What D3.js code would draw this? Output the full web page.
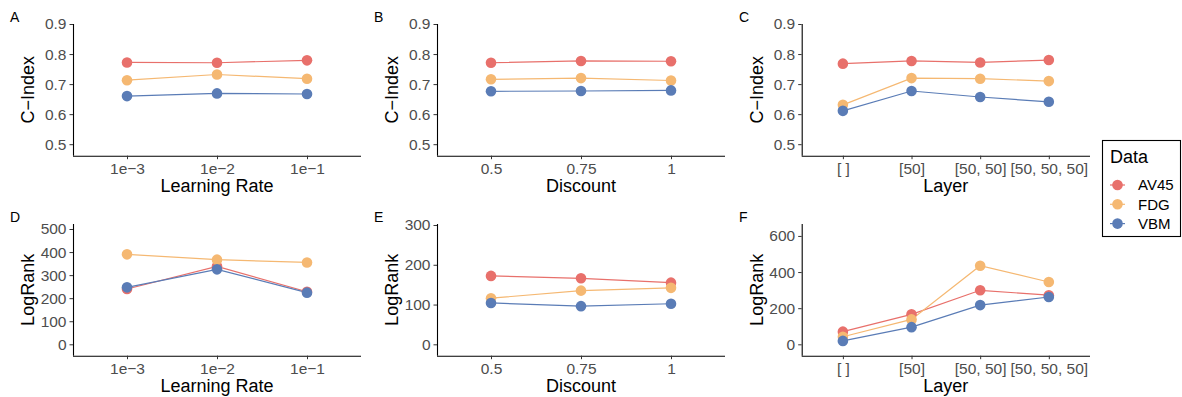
<!DOCTYPE html>
<html><head><meta charset="utf-8">
<script src="https://cdn.jsdelivr.net/npm/d3@7"></script>
<style>body{margin:0;background:#fff}svg{display:block;font-family:"Liberation Sans",Arial,Helvetica,sans-serif}</style>
</head><body><svg id="c" width="1182" height="397"></svg>
<script>
// ---- data ----
const seriesNames = ["AV45", "FDG", "VBM"];
const seriesColors = ["#E8706B", "#F5B872", "#5A7CB6"];

const lrCats = ["1e\u22123", "1e\u22122", "1e\u22121"];
const discountCats = ["0.5", "0.75", "1"];
const layerCats = ["[ ]", "[50]", "[50, 50]", "[50, 50, 50]"];

// C-Index vs Learning Rate
const cLR_AV45 = [0.772, 0.771, 0.779];
const cLR_FDG  = [0.713, 0.732, 0.718];
const cLR_VBM  = [0.660, 0.669, 0.667];
// C-Index vs Discount
const cDisc_AV45 = [0.771, 0.777, 0.776];
const cDisc_FDG  = [0.716, 0.720, 0.712];
const cDisc_VBM  = [0.676, 0.677, 0.679];
// C-Index vs Layer
const cLayer_AV45 = [0.768, 0.777, 0.772, 0.780];
const cLayer_FDG  = [0.631, 0.720, 0.718, 0.710];
const cLayer_VBM  = [0.611, 0.677, 0.657, 0.641];
// LogRank vs Learning Rate
const lLR_AV45 = [240, 338, 228];
const lLR_FDG  = [390, 367, 355];
const lLR_VBM  = [247, 325, 224];
// LogRank vs Discount
const lDisc_AV45 = [172, 166, 155];
const lDisc_FDG  = [116, 135, 142];
const lDisc_VBM  = [104, 96, 102];
// LogRank vs Layer
const lLayer_AV45 = [70, 166, 299, 272];
const lLayer_FDG  = [42, 138, 435, 345];
const lLayer_VBM  = [19, 95, 217, 262];

const cTicks = [0.5, 0.6, 0.7, 0.8, 0.9];
const lTicksD = [0, 100, 200, 300, 400, 500];
const lTicksE = [0, 100, 200, 300];
const lTicksF = [0, 200, 400, 600];

// ---- layout ----
const svg = d3.select("#c");
const cols = [[73, 361], [437, 725], [801.7, 1090]];
const rows = [[24, 155.7], [224, 355.7]];

const panels = [
  {lab:"A", col:0, row:0, cats:lrCats, xt:"Learning Rate", yt:"C\u2212Index", dom:[0.4617,0.9], ticks:cTicks, fmt:d3.format(".1f"), data:[cLR_AV45,cLR_FDG,cLR_VBM]},
  {lab:"B", col:1, row:0, cats:discountCats, xt:"Discount", yt:"C\u2212Index", dom:[0.4617,0.9], ticks:cTicks, fmt:d3.format(".1f"), data:[cDisc_AV45,cDisc_FDG,cDisc_VBM]},
  {lab:"C", col:2, row:0, cats:layerCats, xt:"Layer", yt:"C\u2212Index", dom:[0.4617,0.9], ticks:cTicks, fmt:d3.format(".1f"), data:[cLayer_AV45,cLayer_FDG,cLayer_VBM]},
  {lab:"D", col:0, row:1, cats:lrCats, xt:"Learning Rate", yt:"LogRank", dom:[-49.4,521.7], ticks:lTicksD, fmt:d3.format("d"), data:[lLR_AV45,lLR_FDG,lLR_VBM]},
  {lab:"E", col:1, row:1, cats:discountCats, xt:"Discount", yt:"LogRank", dom:[-28.6,302.5], ticks:lTicksE, fmt:d3.format("d"), data:[lDisc_AV45,lDisc_FDG,lDisc_VBM]},
  {lab:"F", col:2, row:1, cats:layerCats, xt:"Layer", yt:"LogRank", dom:[-63,666], ticks:lTicksF, fmt:d3.format("d"), data:[lLayer_AV45,lLayer_FDG,lLayer_VBM]},
];
const labelX = [10, 374, 739];

panels.forEach(p => {
  const [x0, x1] = cols[p.col];
  const [y0, y1] = rows[p.row];
  const x = d3.scalePoint().domain(p.cats).range([x0, x1]).padding(0.6);
  const y = d3.scaleLinear().domain(p.dom).range([y1, y0]);

  // panel label
  svg.append("text").attr("x", labelX[p.col]).attr("y", y0 - 2)
    .attr("font-size", 14).attr("fill", "#000").text(p.lab);

  // y axis
  const ya = svg.append("g").attr("transform", `translate(${x0},0)`)
    .call(d3.axisLeft(y).tickValues(p.ticks).tickFormat(p.fmt).tickSize(3.5).tickPadding(3));
  ya.select(".domain").attr("stroke", "#000").attr("stroke-width", 1.1).attr("d", `M0.5,${y0}V${y1}`);
  ya.selectAll(".tick line").attr("stroke", "#333").attr("stroke-width", 1);
  ya.selectAll(".tick text").attr("fill", "#4D4D4D").attr("font-size", 15.5).attr("font-family", null);

  // x axis
  const xa = svg.append("g").attr("transform", `translate(0,${y1})`)
    .call(d3.axisBottom(x).tickSize(3.5).tickPadding(3.5));
  xa.select(".domain").attr("stroke", "#000").attr("stroke-width", 1.1).attr("d", `M${x0},0.5H${x1}`);
  xa.selectAll(".tick line").attr("stroke", "#333").attr("stroke-width", 1);
  xa.selectAll(".tick text").attr("fill", "#4D4D4D").attr("font-size", 15.5).attr("font-family", null);

  // titles
  svg.append("text").attr("x", (x0 + x1) / 2).attr("y", y1 + 36.5)
    .attr("text-anchor", "middle").attr("font-size", 18).attr("fill", "#000").text(p.xt);
  const ty = (y0 + y1) / 2;
  svg.append("text").attr("transform", `translate(${x0 - 39},${ty}) rotate(-90)`)
    .attr("text-anchor", "middle").attr("font-size", 18).attr("fill", "#000").text(p.yt);

  // lines
  const line = d3.line().x((d, i) => x(p.cats[i])).y(d => y(d));
  p.data.forEach((vals, si) => {
    svg.append("path").datum(vals).attr("d", line)
      .attr("fill", "none").attr("stroke", seriesColors[si]).attr("stroke-width", 1.2);
  });
  // points
  p.data.forEach((vals, si) => {
    svg.append("g").selectAll("circle").data(vals).join("circle")
      .attr("cx", (d, i) => x(p.cats[i])).attr("cy", d => y(d)).attr("r", 5.3)
      .attr("fill", seriesColors[si]);
  });
});

// legend
const lg = svg.append("g");
lg.append("rect").attr("x", 1102.5).attr("y", 140.5).attr("width", 78).attr("height", 96)
  .attr("fill", "#fff").attr("stroke", "#000").attr("stroke-width", 1.1);
lg.append("text").attr("x", 1110).attr("y", 163).attr("font-size", 18).attr("fill", "#000").text("Data");
seriesNames.forEach((s, i) => {
  const cy = 185 + i * 19.3;
  lg.append("line").attr("x1", 1110).attr("x2", 1125).attr("y1", cy).attr("y2", cy)
    .attr("stroke", seriesColors[i]).attr("stroke-width", 1.2);
  lg.append("circle").attr("cx", 1117.5).attr("cy", cy).attr("r", 5.3).attr("fill", seriesColors[i]);
  lg.append("text").attr("x", 1138).attr("y", cy + 5.3).attr("font-size", 15).attr("fill", "#000").text(s);
});
</script></body></html>
